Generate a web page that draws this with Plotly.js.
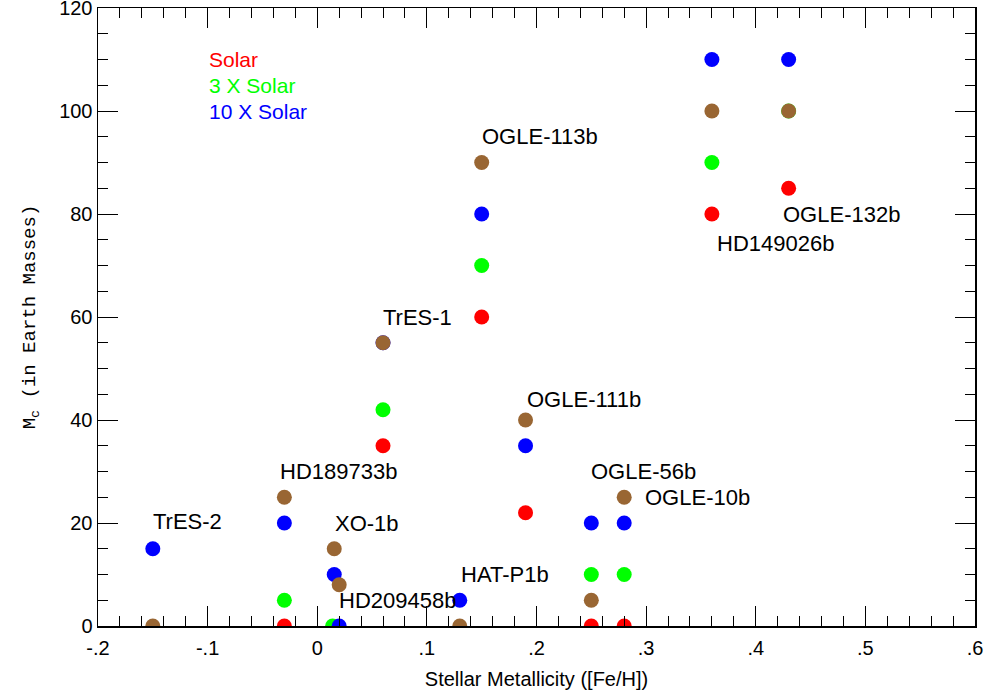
<!DOCTYPE html>
<html>
<head>
<meta charset="utf-8">
<script src="https://cdn.plot.ly/plotly-3.0.1.min.js"></script>
<style>html,body{margin:0;padding:0;background:#fff;}#chart{width:984px;height:698px;}</style>
</head>
<body>
<div id="chart"></div>
<script>
// Data (Stellar metallicity [Fe/H] vs core mass in Earth masses)
const solarX   = [-0.03, 0.06, 0.15, 0.19, 0.25, 0.28, 0.36, 0.43];
const solarY   = [0, 35, 60, 22, 0, 0, 80, 85];
const solar3X  = [-0.03, 0.014, 0.06, 0.15, 0.25, 0.28, 0.36, 0.43];
const solar3Y  = [5, 0, 42, 70, 10, 10, 90, 100];
const solar10X = [-0.15, -0.03, 0.0155, 0.02, 0.06, 0.13, 0.15, 0.19, 0.25, 0.28, 0.36, 0.43];
const solar10Y = [15, 20, 10, 0, 55, 5, 80, 35, 20, 20, 110, 110];
const brownX   = [-0.15, -0.03, 0.0155, 0.02, 0.06, 0.13, 0.15, 0.19, 0.25, 0.28, 0.36, 0.43];
const brownY   = [0, 25, 15, 8, 55, 0, 90, 40, 5, 25, 100, 100];

const planetNames = ["TrES-2","HD189733b","XO-1b","HD209458b","HAT-P1b","TrES-1","OGLE-113b","OGLE-111b","OGLE-56b","OGLE-10b","HD149026b","OGLE-132b"];
const labelX = [-0.118, 0.019, 0.045, 0.073, 0.171, 0.091, 0.203, 0.243, 0.298, 0.347, 0.418, 0.478];
const labelY = [20.2, 30, 20, 4.9, 10, 60, 95, 44, 30, 25, 74.2, 80];

const xTickVals = [-0.2,-0.1,0,0.1,0.2,0.3,0.4,0.5,0.6];
const xTickText = ["-.2","-.1","0",".1",".2",".3",".4",".5",".6"];
const yTickVals = [0,20,40,60,80,100,120];

const legendNames = ["Solar","3 X Solar","10 X Solar"];
const legendY = [110, 105, 100];

const XRANGE=[-0.2,0.6], YRANGE=[0,120];
const RED="#ff0000", GREEN="#00ff00", BLUE="#0000ff", BROWN="#996633";
const FONT='Liberation Sans, Arial, sans-serif';
function mk(x,y,c){return {x:x,y:y,type:'scatter',mode:'markers',marker:{color:c,size:15,line:{width:0}},hoverinfo:'x+y',showlegend:false};}
const traces=[mk(solarX,solarY,RED),mk(solar3X,solar3Y,GREEN),mk(solar10X,solar10Y,BLUE),mk(brownX,brownY,BROWN)];

const ann=[];
planetNames.forEach((n,i)=>ann.push({x:labelX[i],y:labelY[i],xref:'x',yref:'y',text:n,showarrow:false,font:{family:FONT,size:22,color:'#000'}}));
const legColors=[RED,GREEN,BLUE];
legendNames.forEach((n,i)=>ann.push({x:-0.1005,y:legendY[i],xref:'x',yref:'y',xanchor:'left',text:n,showarrow:false,font:{family:FONT,size:21,color:legColors[i]}}));

function axis(extra){
  return Object.assign({showline:true,linecolor:'#000',linewidth:1.5,mirror:'allticks',ticks:'inside',ticklen:20,tickcolor:'#000',
    showgrid:false,zeroline:false,ticklabeloverflow:'allow',tickfont:{family:FONT,size:20,color:'#000'}},extra);
}
const layout={
  width:984,height:698,margin:{l:98,r:9,t:8,b:72},
  xaxis:axis({range:XRANGE,tickmode:'array',tickvals:xTickVals,ticktext:xTickText,ticklabelstandoff:3,
    minor:{dtick:0.02,ticks:'inside',ticklen:10,tickcolor:'#000'},
    title:{text:'Stellar Metallicity ([Fe/H])',font:{family:FONT,size:20,color:'#000'},standoff:14}}),
  yaxis:axis({range:YRANGE,tickmode:'array',tickvals:yTickVals,ticktext:yTickVals.map(String),
    minor:{dtick:5,ticks:'inside',ticklen:10,tickcolor:'#000'},
    title:{text:'M<sub>c</sub> (in Earth Masses)',font:{family:'Liberation Mono, Courier New, monospace',size:19,color:'#000'},standoff:18}}),
  annotations:ann
};
Plotly.newPlot('chart',traces,layout,{displayModeBar:false,staticPlot:true});
</script>
</body>
</html>
